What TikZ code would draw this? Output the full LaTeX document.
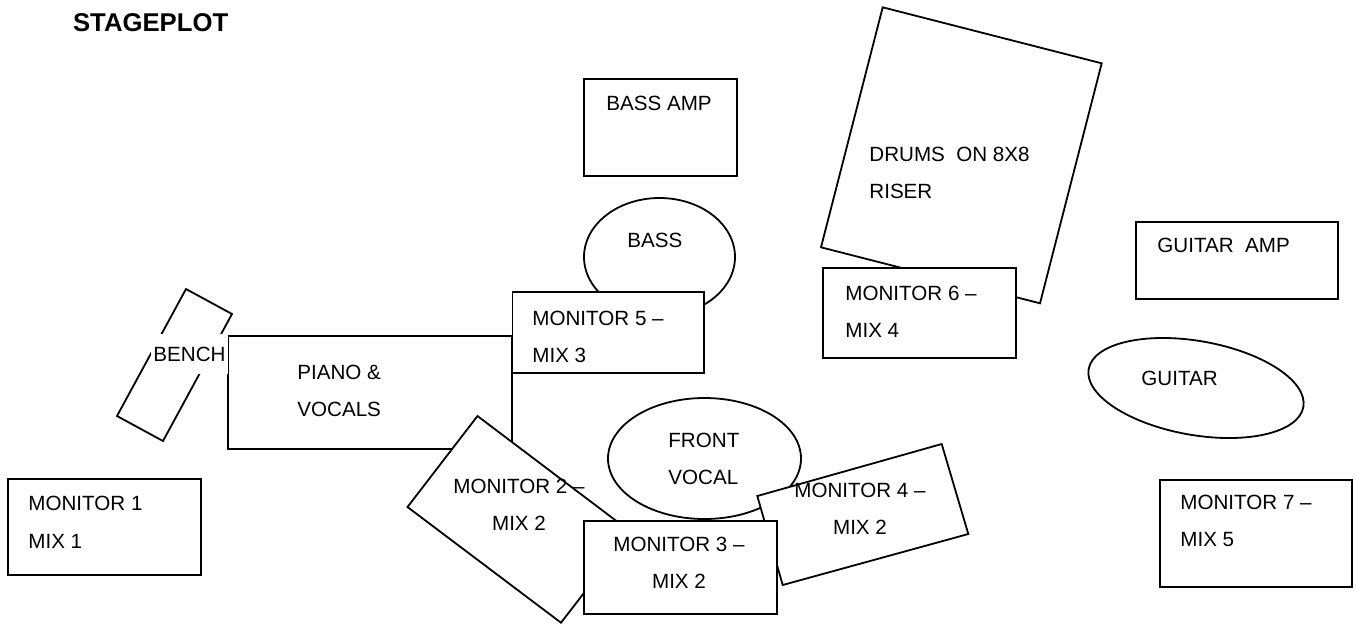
\documentclass[tikz,border=0pt]{standalone}
\usepackage{fontspec}
\setmainfont{Liberation Sans}
\usetikzlibrary{positioning}
\tikzset{every picture/.prefix style={execute at begin picture={\fontsize{10.3}{18.7}\selectfont}}}

\begin{document}
\begin{tikzpicture}[x=0.5pt,y=-0.5pt,box/.style={draw=black,fill=white,line width=0.9pt},
  lab/.style={font=\fontsize{10.3}{18.7}\selectfont,align=left,inner sep=0pt,anchor=north west},
  clab/.style={lab,align=center,anchor=north}]
\useasboundingbox (0,0) rectangle (1356,629);
% piano corner with the bench under it
\draw[box] (186,289) -- (232,314) -- (163,441) -- (117,416) -- cycle;
\draw[box] (228,336) rectangle (512,449);
% bass
\draw[box] (584,79) rectangle (737,176);
\draw[box] (659.5,257) ellipse [x radius=75.5,y radius=59];
\draw[box] (512.5,292) rectangle (704,373);
% drum riser
\draw[box] (882.7,7.3) -- (1101.7,63.3) -- (1040,303.3) -- (821,247.3) -- cycle;
\draw[box] (823.3,268.3) rectangle (1016,358.3);
% guitar
\draw[box] (1136,222) rectangle (1338,299);
\draw[box,rotate around={-10:(1196,388)}] (1196,388) ellipse [x radius=109,y radius=47];
% wedges at the front
\draw[box] (8,479) rectangle (201,575);
\draw[box] (1160,480) rectangle (1352,587);
\draw[box] (704.5,458.5) ellipse [x radius=96.5,y radius=60.5];
\draw[box] (757.3,496) -- (941.7,444) -- (968.3,534) -- (782.7,585) -- cycle;
\draw[box] (477.5,416) -- (631,532) -- (561,622.7) -- (407.5,507) -- cycle;
\draw[box] (584,521) rectangle (777,614);
% labels
\node[lab,font=\fontsize{12.85}{15}\selectfont\bfseries] (title) at (72.7,13.3) {STAGEPLOT};
\node[lab,fill=white,anchor=center,align=center,minimum width=38.5pt,minimum height=20pt] (bench) at (189.5,354) {BENCH};
\node[lab] (piano) at (297,364.5) {PIANO \&\\VOCALS};
\node[lab] (bassamp) at (606,95.6) {BASS AMP};
\node[lab] (bass) at (627,232.6) {BASS};
\node[lab] (mon5) at (532,310.6) {MONITOR 5 --\\MIX 3};
\node[lab] (drums) at (869,146.6) {DRUMS\ \ ON 8X8\\RISER};
\node[lab] (mon6) at (845,285.3) {MONITOR 6 --\\MIX 4};
\node[lab] (gtramp) at (1157,237.6) {GUITAR\ \ AMP};
\node[lab] (gtr) at (1141,370.3) {GUITAR};
\node[lab] (vocal) at (668,432.6) {FRONT\\VOCAL};
\node[lab] (mon1) at (28,496) {MONITOR 1\\MIX 1};
\node[clab] (mon2) at (519,478.6) {MONITOR 2 --\\MIX 2};
\node[clab] (mon3) at (679,536.6) {MONITOR 3 --\\MIX 2};
\node[clab] (mon4) at (860,482.6) {MONITOR 4 --\\MIX 2};
\node[lab] (mon7) at (1180,494.3) {MONITOR 7 --\\MIX 5};
\end{tikzpicture}
\end{document}
